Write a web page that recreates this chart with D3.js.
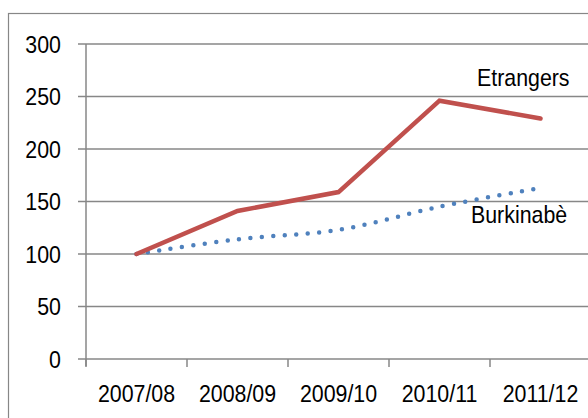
<!DOCTYPE html>
<html><head><meta charset="utf-8">
<script src="https://cdn.jsdelivr.net/npm/d3@7"></script>
<style>
body{margin:0;background:#fff;}
svg{display:block;}
text{font-family:"Liberation Sans Narrow","Arial Narrow","Liberation Sans",Arial,sans-serif;fill:#000;}
</style></head><body>
<svg id="c" width="588" height="418"></svg>
<script>
const categories = ["2007/08","2008/09","2009/10","2010/11","2011/12"];
const etrangers = [100, 141, 159, 246, 229];
const burkinabe = [100, 114, 123, 145, 163];
const yTicks = [0, 50, 100, 150, 200, 250, 300];
const seriesLabels = ["Etrangers", "Burkinabè"];

const svg = d3.select("#c");
const gridColor = "#878787";
const SX = 0.89, FS = 24;

// outer border
svg.append("rect").attr("x", 8.5).attr("y", 13.5).attr("width", 600).attr("height", 420)
  .attr("fill", "none").attr("stroke", gridColor).attr("stroke-width", 1.2);

const x = d3.scaleBand().domain(categories).range([86, 591]).padding(0);
const y = d3.scaleLinear().domain([0, 300]).range([359, 44]);
const cx = c => x(c) + x.bandwidth() / 2;

// gridlines
svg.append("g").selectAll("line").data(yTicks).join("line")
  .attr("x1", 78).attr("x2", 600)
  .attr("y1", d => y(d)).attr("y2", d => y(d))
  .attr("stroke", gridColor).attr("stroke-width", 1.5);

// y axis labels
svg.append("g").selectAll("text").data(yTicks).join("text")
  .attr("transform", d => `translate(61,${y(d)}) scale(${SX},1)`)
  .attr("text-anchor", "end").attr("dy", "0.36em").attr("font-size", FS)
  .text(d => d);

svg.append("line").attr("x1", 86).attr("x2", 86).attr("y1", 44).attr("y2", 366)
  .attr("stroke", gridColor).attr("stroke-width", 1.5);

// x axis
svg.append("g").selectAll("text").data(categories).join("text")
  .attr("transform", d => `translate(${cx(d)},402) scale(${SX},1)`)
  .attr("text-anchor", "middle").attr("font-size", FS).text(d => d);
svg.append("g").selectAll("line").data(categories.concat(["end"])).join("line")
  .attr("x1", (d, i) => 86 + i * x.bandwidth()).attr("x2", (d, i) => 86 + i * x.bandwidth())
  .attr("y1", 359).attr("y2", 367).attr("stroke", gridColor).attr("stroke-width", 1.5);

// lines
const lineStraight = d3.line().x((d, i) => cx(categories[i])).y(d => y(d));
const lineSmooth = d3.line().x((d, i) => cx(categories[i])).y(d => y(d)).curve(d3.curveCatmullRom.alpha(0.5));

svg.append("path").datum(burkinabe).attr("d", lineSmooth)
  .attr("fill", "none").attr("stroke", "#4F81BD").attr("stroke-width", 4.5)
  .attr("stroke-linecap", "round").attr("stroke-dasharray", "0 11.5");

svg.append("path").datum(etrangers).attr("d", lineStraight)
  .attr("fill", "none").attr("stroke", "#C0504D").attr("stroke-width", 4.5)
  .attr("stroke-linejoin", "miter").attr("stroke-linecap", "round");

// labels
svg.append("text").attr("transform", `translate(477,86) scale(${SX},1)`).attr("font-size", FS).text(seriesLabels[0]);
svg.append("text").attr("transform", `translate(471,223) scale(${SX},1)`).attr("font-size", FS).text(seriesLabels[1]);
</script>
</body></html>
